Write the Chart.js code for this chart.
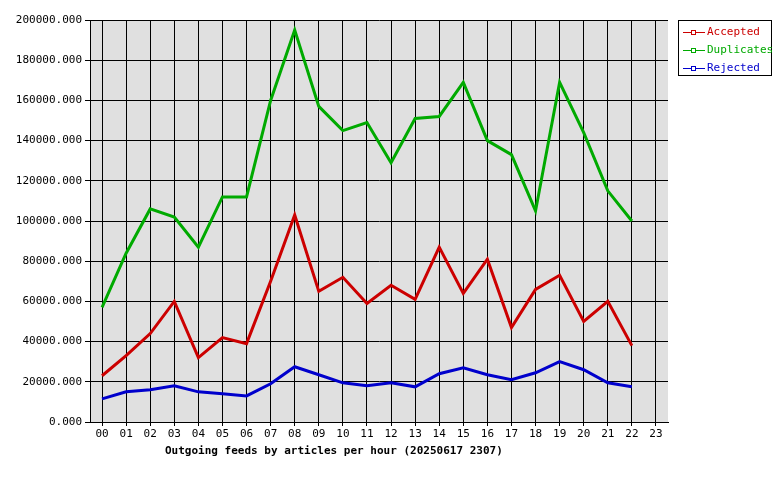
<!DOCTYPE html>
<html><head><meta charset="utf-8">
<script src="https://cdn.jsdelivr.net/npm/chart.js@4"></script>
<style>
body{margin:0;background:#fff;font-family:"DejaVu Sans Mono",monospace;}
#wrap{position:relative;width:780px;height:480px;}
#legend{position:absolute;left:678px;top:20px;width:92px;height:54px;border:1px solid #000;background:#fff;font-size:11px;}
#legend div{height:15px;line-height:15px;margin-top:3px;padding-left:4px;white-space:nowrap;}
#legend i{display:inline-block;width:22px;height:1px;vertical-align:middle;position:relative;margin-right:2px;}
#legend i b{position:absolute;left:8px;top:-2px;width:3px;height:3px;border:1px solid;background:#fff;}
#title{position:absolute;left:165px;top:444px;font-size:11px;font-weight:bold;}
</style></head><body>
<div id="wrap"><canvas id="c" width="780" height="480"></canvas>
<div id="legend"></div>
<div id="title">Outgoing feeds by articles per hour (20250617 2307)</div></div>
<script>
const hours = ["00","01","02","03","04","05","06","07","08","09","10","11","12","13","14","15","16","17","18","19","20","21","22","23"];
const accepted = [23000,33000,44000,60000,32000,42000,39000,70000,103000,65000,72000,59000,68000,61000,87000,64000,81000,47000,66000,73000,50000,60000,38000];
const duplicates = [57000,84000,106000,102000,87000,112000,112000,160000,195000,157000,145000,149000,129000,151000,152000,169000,140000,133000,105000,169000,144000,115000,100000];
const rejected = [11500,15000,16000,18000,15000,14000,13000,19000,27500,23500,19500,18000,19500,17500,24000,27000,23500,21000,24500,30000,26000,19500,17500];

const SERIES = [
  { label: "Accepted", data: accepted, color: "#cc0000" },
  { label: "Duplicates", data: duplicates, color: "#00aa00" },
  { label: "Rejected", data: rejected, color: "#0000cc" },
];

document.getElementById("legend").innerHTML = SERIES.map((s) =>
  `<div style="color:${s.color}"><i style="background:${s.color}"><b style="border-color:${s.color}"></b></i>${s.label}</div>`
).join("");

const plotBg = {
  id: "plotBg",
  beforeDraw(chart) {
    const { ctx, chartArea: a } = chart;
    ctx.save();
    ctx.fillStyle = "#e0e0e0";
    ctx.fillRect(a.left, a.top, a.right - a.left, a.bottom - a.top);
    ctx.restore();
  },
};

const font = { family: "DejaVu Sans Mono", size: 11 };

new Chart(document.getElementById("c"), {
  type: "line",
  data: {
    labels: hours,
    datasets: SERIES.map((s) => ({
      label: s.label, data: s.data, borderColor: s.color, borderWidth: 3,
      pointRadius: 0, tension: 0, fill: false,
    })),
  },
  options: {
    responsive: false, animation: false,
    layout: { padding: { left: 0, right: 112, top: 20, bottom: 0 } },
    plugins: { legend: { display: false }, tooltip: { enabled: false } },
    scales: {
      x: {
        offset: true,
        grid: { offset: false, color: "#000", lineWidth: 1, drawTicks: true, tickLength: 4 },
        border: { color: "#000" },
        ticks: { color: "#000", font, maxRotation: 0, autoSkip: false, padding: 2 },
        afterFit: (s) => { s.height = 58; },
      },
      y: {
        min: 0, max: 200000,
        grid: { color: "#000", lineWidth: 1, tickLength: 5 },
        border: { color: "#000" },
        ticks: { stepSize: 20000, color: "#000", font, padding: 3, callback: (v) => v.toFixed(3) },
        afterFit: (s) => { s.width = 90; },
      },
    },
  },
  plugins: [plotBg],
});
</script></body></html>
